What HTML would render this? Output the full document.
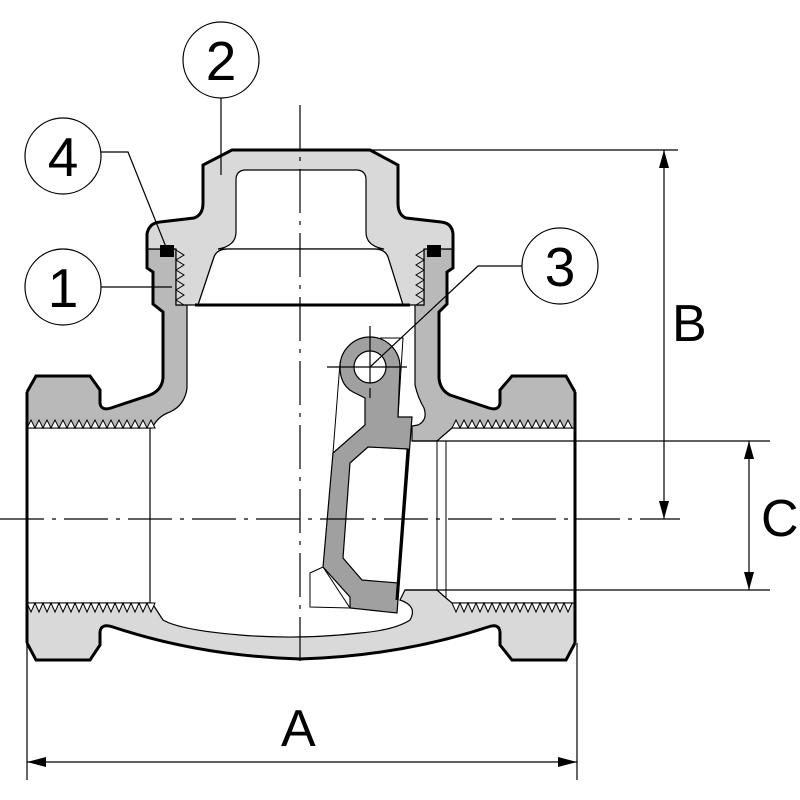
<!DOCTYPE html>
<html><head><meta charset="utf-8"><style>
html,body{margin:0;padding:0;background:#fff}
svg{display:block}
text{font-family:"Liberation Sans",Arial,sans-serif;fill:#000}
</style></head><body>
<svg width="800" height="800" viewBox="0 0 800 800" xmlns="http://www.w3.org/2000/svg">
<rect width="800" height="800" fill="#fff"/>

<path d="M27,643 L36,660 L90,660 L100,645 L100,632 Q101,623 113,627 Q200,656 300,659 Q400,656 488,627 Q499,623 500,632 L500,645 L512,660 L566,660 L575,643 L575,603 L452,603 L446,598 L437,590 L405,590 L400,600 Q418,606 410,620 Q395,630 360,633 Q300,640 240,635 Q180,630 163,620 L152,603 L27,603 Z" fill="#d9d9d9" stroke="#000" stroke-width="1.2"/>
<path d="M27,643 L36,660 L90,660 L100,645 L100,632 Q101,623 113,627 Q200,656 300,659 Q400,656 488,627 Q499,623 500,632 L500,645 L512,660 L566,660 L575,643" fill="none" stroke="#000" stroke-width="3"/>
<path d="M27,603 l4,9 l4,-9 l4,9 l4,-9 l4,9 l4,-9 l4,9 l4,-9 l4,9 l4,-9 l4,9 l4,-9 l4,9 l4,-9 l4,9 l4,-9 l4,9 l4,-9 l4,9 l4,-9 l4,9 l4,-9 l4,9 l4,-9 l4,9 l4,-9 l4,9 l4,-9 l4,9 l4,-9 l4,9 l4,-9 L152,603 Z" fill="#fff" stroke="#000" stroke-width="1"/>
<path d="M452,603 l4,9 l4,-9 l4,9 l4,-9 l4,9 l4,-9 l4,9 l4,-9 l4,9 l4,-9 l4,9 l4,-9 l4,9 l4,-9 l4,9 l4,-9 l4,9 l4,-9 l4,9 l4,-9 l4,9 l4,-9 l4,9 l4,-9 l4,9 l4,-9 l4,9 l4,-9 l4,9 l4,-9 L575,603 Z" fill="#fff" stroke="#000" stroke-width="1"/>

<path d="M27,392 L36,376 L90,376 L100,390 L100,403 Q101,411 111,408 L150,395 Q162,390 163,378 L163,312 L153,304 L153,272 L147,268 L147,249 L176,249 L176,305 L187,305 L187,388 Q185,405 170,412 Q158,416 152,428 L27,428 Z" fill="#b9b9b9" stroke="#000" stroke-width="1.2"/>
<path d="M27,392 L36,376 L90,376 L100,390 L100,403 Q101,411 111,408 L150,395 Q162,390 163,378 L163,312 L153,304 L153,272 L147,268 L147,249" fill="none" stroke="#000" stroke-width="3"/>
<path d="M575,392 L566,376 L512,376 L500,390 L500,403 Q499,411 489,408 L450,395 Q440,390 439,378 L439,312 L447,304 L447,272 L453,268 L453,249 L424,249 L424,305 L415,305 L415,385 Q418,398 424,408 Q428,420 418,425 L412,426 L412,441 L437,441 L452,428 L575,428 Z" fill="#b9b9b9" stroke="#000" stroke-width="1.2"/>
<path d="M575,392 L566,376 L512,376 L500,390 L500,403 Q499,411 489,408 L450,395 Q440,390 439,378 L439,312 L447,304 L447,272 L453,268 L453,249" fill="none" stroke="#000" stroke-width="3"/>
<path d="M27,428 l4,-8 l4,8 l4,-8 l4,8 l4,-8 l4,8 l4,-8 l4,8 l4,-8 l4,8 l4,-8 l4,8 l4,-8 l4,8 l4,-8 l4,8 l4,-8 l4,8 l4,-8 l4,8 l4,-8 l4,8 l4,-8 l4,8 l4,-8 l4,8 l4,-8 l4,8 l4,-8 l4,8 l4,-8 l4,8 L152,428 Z" fill="#fff" stroke="#000" stroke-width="1"/>
<path d="M452,428 l4,-8 l4,8 l4,-8 l4,8 l4,-8 l4,8 l4,-8 l4,8 l4,-8 l4,8 l4,-8 l4,8 l4,-8 l4,8 l4,-8 l4,8 l4,-8 l4,8 l4,-8 l4,8 l4,-8 l4,8 l4,-8 l4,8 l4,-8 l4,8 l4,-8 l4,8 l4,-8 l4,8 L575,428 Z" fill="#fff" stroke="#000" stroke-width="1"/>
<line x1="27" y1="392" x2="27" y2="643" stroke="#000" stroke-width="3"/>
<line x1="575" y1="392" x2="575" y2="643" stroke="#000" stroke-width="3"/>
<line x1="150" y1="428" x2="150" y2="603" stroke="#000" stroke-width="1.2"/>
<line x1="437" y1="441" x2="437" y2="590" stroke="#000" stroke-width="1"/>
<line x1="446" y1="441" x2="446" y2="598" stroke="#000" stroke-width="1"/>
<line x1="412" y1="441" x2="770" y2="441" stroke="#000" stroke-width="1.2"/>
<line x1="405" y1="590" x2="770" y2="590" stroke="#000" stroke-width="1.2"/>

<path d="M147,249 L147,234 Q149,223 160,222 L194,218 Q203,215 203,203 L203,165 L232,150 L370,150 L398,165 L398,203 Q398,215 406,218 L441,222 Q452,223 453,234 L453,249 L424,249 L424,305 L403,305 L388,257 Q385,249 374,249 L228,249 Q217,249 214,257 L198,305 L176,305 L176,249 Z" fill="#d9d9d9" stroke="#000" stroke-width="1.2"/>
<path d="M147,249 L147,234 Q149,223 160,222 L194,218 Q203,215 203,203 L203,165 L232,150 L370,150 L398,165 L398,203 Q398,215 406,218 L441,222 Q452,223 453,234 L453,249" fill="none" stroke="#000" stroke-width="3"/>
<path d="M218,249 Q236,246 236,232 L236,180 Q236,170 246,170 L356,170 Q366,170 366,180 L366,232 Q366,246 384,249 Z" fill="#fff" stroke="#000" stroke-width="1.2"/>
<path d="M214,257 L198,305 L403,305 L388,257 Q385,249 374,249 L228,249 Q217,249 214,257 Z" fill="#fff" stroke="#000" stroke-width="1.2"/>
<line x1="195" y1="305" x2="410" y2="305" stroke="#000" stroke-width="3"/>
<polyline points="176,250 184,255 176,260 184,265 176,270 184,275 176,280 184,285 176,290 184,295 176,300 184,305" fill="none" stroke="#000" stroke-width="1"/>
<polyline points="424,250 416,255 424,260 416,265 424,270 416,275 424,280 416,285 424,290 416,295 424,300 416,305" fill="none" stroke="#000" stroke-width="1"/>
<line x1="147" y1="249" x2="160" y2="249" stroke="#000" stroke-width="1"/>
<line x1="440" y1="249" x2="453" y2="249" stroke="#000" stroke-width="1"/>
<rect x="160" y="245" width="14" height="12" fill="#000"/>
<rect x="427" y="245" width="14" height="12" fill="#000"/>

<path d="M340,363 L333,453 L365,425 L365,398 Z" fill="#fff" stroke="#000" stroke-width="1"/>
<path d="M323,567 L310,573 L310,607 L350,608 Z" fill="#fff" stroke="#000" stroke-width="1"/>
<polyline points="380,338 403,338 398,417" fill="none" stroke="#000" stroke-width="1"/>
<path d="M353,392 Q340,385 340,367 A30,30 0 0 1 400,367 L398,417 L412,417 L397,613 L350,608 L350,597 L323,567 L333,453 L365,425 L365,398 Z" fill="#a0a0a0" stroke="#000" stroke-width="1.2"/>
<path d="M350,463 L368,447 L408,449 L398,583 L362,580 L343,558 Z" fill="#fff" stroke="#000" stroke-width="1.2"/>
<line x1="408" y1="449" x2="397" y2="600" stroke="#000" stroke-width="3"/>
<circle cx="370" cy="367" r="16" fill="#fff" stroke="#000" stroke-width="1.2"/>
<line x1="327" y1="367" x2="407" y2="367" stroke="#000" stroke-width="1.2"/>
<line x1="370" y1="326" x2="370" y2="383" stroke="#000" stroke-width="1.2"/>
<line x1="370" y1="388" x2="370" y2="398" stroke="#000" stroke-width="1.2"/>

<line x1="0" y1="519" x2="680" y2="519" stroke="#000" stroke-width="1.2" stroke-dasharray="44,8,4,8"/>
<line x1="300" y1="105" x2="300" y2="668" stroke="#000" stroke-width="1.2" stroke-dasharray="44,8,4,8"/>

<line x1="370" y1="150" x2="678" y2="150" stroke="#000" stroke-width="1.2"/>
<line x1="664" y1="150" x2="664" y2="519" stroke="#000" stroke-width="1.2"/>
<polygon points="664,150 659,168 669,168" fill="#000"/>
<polygon points="664,519 659,501 669,501" fill="#000"/>
<text x="672" y="341" font-size="52">B</text>
<line x1="749" y1="441" x2="749" y2="590" stroke="#000" stroke-width="1.2"/>
<polygon points="749,441 744,459 754,459" fill="#000"/>
<polygon points="749,590 744,572 754,572" fill="#000"/>
<text x="761" y="536" font-size="52">C</text>
<line x1="27" y1="643" x2="27" y2="780" stroke="#000" stroke-width="1.2"/>
<line x1="577" y1="643" x2="577" y2="780" stroke="#000" stroke-width="1.2"/>
<line x1="27" y1="762" x2="577" y2="762" stroke="#000" stroke-width="1.2"/>
<polygon points="27,762 46,757 46,767" fill="#000"/>
<polygon points="577,762 558,757 558,767" fill="#000"/>
<text x="281" y="746" font-size="52">A</text>

<circle cx="221" cy="60" r="38" fill="#fff" stroke="#000" stroke-width="1.2"/>
<text x="221" y="80" font-size="55" text-anchor="middle">2</text>
<line x1="221" y1="98" x2="221" y2="175" stroke="#000" stroke-width="1.2"/>
<circle cx="63" cy="156" r="38" fill="#fff" stroke="#000" stroke-width="1.2"/>
<text x="63" y="176" font-size="55" text-anchor="middle">4</text>
<polyline points="101,152 128,152 166,247" fill="none" stroke="#000" stroke-width="1.2"/>
<circle cx="63" cy="287" r="38" fill="#fff" stroke="#000" stroke-width="1.2"/>
<text x="63" y="307" font-size="55" text-anchor="middle">1</text>
<line x1="101" y1="287" x2="172" y2="287" stroke="#000" stroke-width="1.2"/>
<circle cx="560" cy="266" r="38" fill="#fff" stroke="#000" stroke-width="1.2"/>
<text x="560" y="286" font-size="55" text-anchor="middle">3</text>
<polyline points="522,266 478,266 370,367" fill="none" stroke="#000" stroke-width="1.2"/>
</svg>
</body></html>
